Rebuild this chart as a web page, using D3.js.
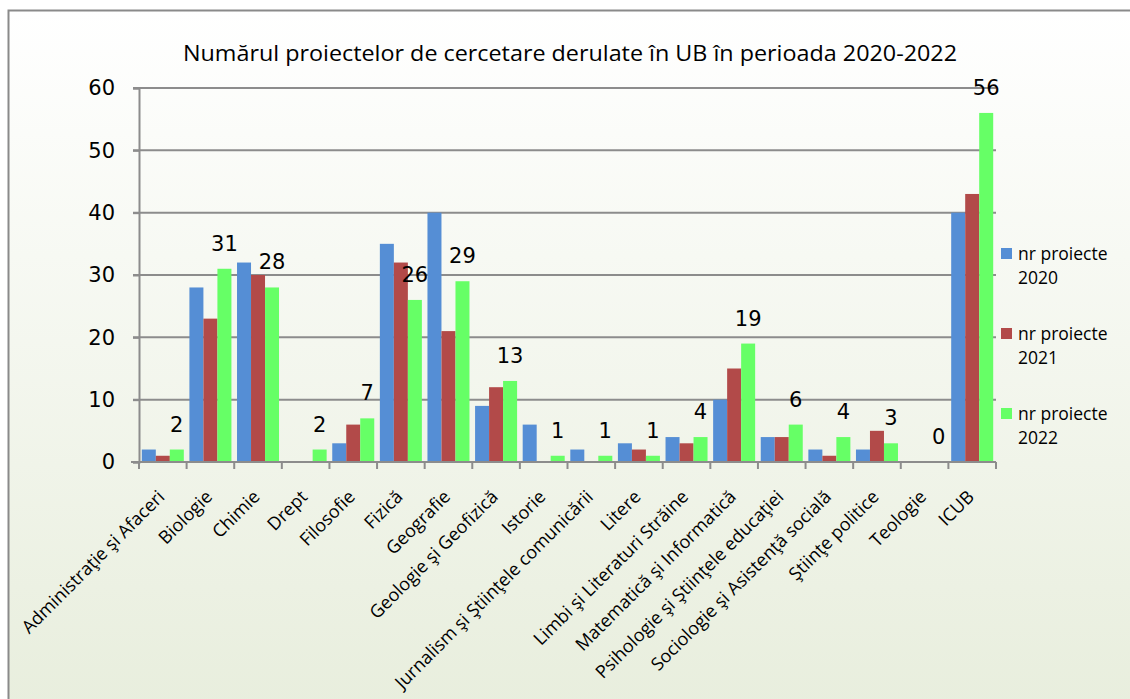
<!DOCTYPE html>
<html><head><meta charset="utf-8">
<script src="https://cdn.jsdelivr.net/npm/d3@7"></script>
<style>html,body{margin:0;padding:0;background:#fff}svg{display:block}</style>
</head><body>
<svg id="c" width="1130" height="699"></svg>
<script>
const title = "Numărul proiectelor de cercetare derulate în UB în perioada 2020-2022";
const categories = ["Administraţie şi Afaceri","Biologie","Chimie","Drept","Filosofie","Fizică","Geografie","Geologie şi Geofizică","Istorie","Jurnalism şi Ştiinţele comunicării","Litere","Limbi şi Literaturi Străine","Matematică şi Informatică","Psihologie şi Ştiinţele educaţiei","Sociologie şi Asistenţă socială","Ştiinţe politice","Teologie","ICUB"];
const seriesNames = ["nr proiecte 2020","nr proiecte 2021","nr proiecte 2022"];
const v2020 = [2,28,32,0,3,35,40,9,6,2,3,4,10,4,2,2,0,40];
const v2021 = [1,23,30,0,6,32,21,12,0,0,2,3,15,4,1,5,0,43];
const v2022 = [2,31,28,2,7,26,29,13,1,1,1,4,19,6,4,3,0,56];
const yTicks = [0,10,20,30,40,50,60];
const colors = ["#558ed5","#b24a49","#66ff66"];

const series = [v2020, v2021, v2022];
const svg = d3.select("#c");
const defs = svg.append("defs");
const grad = defs.append("linearGradient").attr("id","bg").attr("x1",0).attr("y1",0).attr("x2",0).attr("y2",1);
grad.append("stop").attr("offset","0%").attr("stop-color","#ffffff");
grad.append("stop").attr("offset","100%").attr("stop-color","#e8eedd");
svg.append("rect").attr("x",0).attr("y",0).attr("width",1130).attr("height",699).attr("fill","#fff");
svg.append("rect").attr("x",8).attr("y",10).attr("width",1140).attr("height",700).attr("fill","url(#bg)");
svg.append("path").attr("d","M8.5,710V10.5H1140").attr("fill","none").attr("stroke","#8a8a8a").attr("stroke-width",2);

const x0 = 139, x1 = 996, yB = 462, yT = 88;
const x = d3.scaleBand().domain(categories).range([x0,x1]).paddingInner(0).paddingOuter(0);
const inner = d3.scaleBand().domain([0,1,2]).range([0, x.bandwidth()]).paddingOuter(0.2).paddingInner(0);
const y = d3.scaleLinear().domain([0,60]).range([yB,yT]);

// gridlines
svg.append("g").selectAll("line").data(yTicks.filter(t=>t>0)).join("line")
  .attr("x1",x0-6).attr("x2",x1).attr("y1",d=>y(d)).attr("y2",d=>y(d))
  .attr("stroke","#8c8c8c").attr("stroke-width",2);

// bars
series.forEach((s,si)=>{
  svg.append("g").selectAll("rect").data(s).join("rect")
    .attr("x",(d,i)=>x(categories[i])+inner(si))
    .attr("width",inner.bandwidth())
    .attr("y",d=>y(d)).attr("height",d=>yB-y(d))
    .attr("fill",colors[si]);
});

// y axis
const ya = svg.append("g").attr("transform",`translate(${x0},0)`)
  .call(d3.axisLeft(y).tickValues(yTicks).tickSize(6).tickPadding(18));
ya.select(".domain").attr("stroke","#8c8c8c").attr("stroke-width",2);
ya.selectAll(".tick line").attr("stroke","#8c8c8c").attr("stroke-width",2);
ya.selectAll(".tick text").attr("font-family","'DejaVu Sans'").attr("font-size",21).attr("fill","#000");

// x axis
const xa = svg.append("g").attr("transform",`translate(0,${yB})`)
  .call(d3.axisBottom(x).tickSize(0).tickFormat(""));
xa.select(".domain").remove();
svg.append("line").attr("x1",x0-8).attr("x2",x1).attr("y1",yB).attr("y2",yB).attr("stroke","#8c8c8c").attr("stroke-width",2);
const bounds = [x0].concat(categories.map(c=>x(c)+x.bandwidth()));
svg.append("g").selectAll("line").data(bounds).join("line")
  .attr("x1",d=>d).attr("x2",d=>d).attr("y1",yB).attr("y2",yB+7)
  .attr("stroke","#8c8c8c").attr("stroke-width",2);

// category labels
svg.append("g").selectAll("text").data(categories).join("text")
  .attr("transform",d=>`translate(${x(d)+x.bandwidth()/2-6},${yB+27}) rotate(-45)`)
  .attr("text-anchor","end").attr("dy","0.7em")
  .attr("font-family","'Open Sans'").attr("font-size",18).attr("fill","#000")
  .text(d=>d);

// data labels (2022)
svg.append("g").selectAll("text").data(v2022).join("text")
  .attr("x",(d,i)=>x(categories[i])+inner(2)+inner.bandwidth()/2)
  .attr("y",d=>y(d)-18)
  .attr("text-anchor","middle")
  .attr("font-family","'DejaVu Sans'").attr("font-size",21).attr("fill","#000")
  .text(d=>d);

// title
svg.append("text").attr("x",570).attr("y",61).attr("text-anchor","middle")
  .attr("font-family","'Open Sans'").attr("font-size",22).attr("fill","#000")
  .attr("textLength",774).attr("lengthAdjust","spacingAndGlyphs")
  .text(title);

// legend
const lg = svg.append("g");
seriesNames.forEach((n,i)=>{
  const gy = 248 + i*80;
  lg.append("rect").attr("x",1001).attr("y",gy).attr("width",11).attr("height",11).attr("fill",colors[i]);
  const parts = n.split(" ");
  const t = lg.append("text").attr("x",1018).attr("y",gy+12)
    .attr("font-family","'Open Sans'").attr("font-size",17.5).attr("fill","#000");
  t.append("tspan").attr("x",1018).text(parts.slice(0,2).join(" "));
  t.append("tspan").attr("x",1018).attr("dy",24).text(parts[2]);
});
</script>
</body></html>
